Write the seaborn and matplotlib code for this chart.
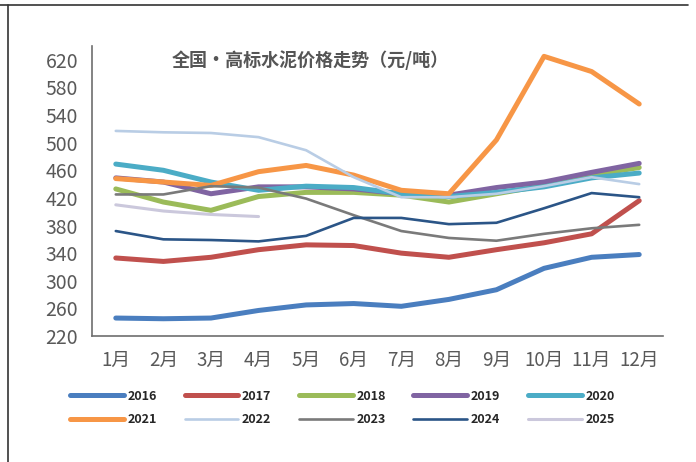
#!/usr/bin/env python
"""
National high-grade cement price trend by month, 2016-2025.
"""

import pandas as pd
import matplotlib.pyplot as plt
from matplotlib.lines import Line2D
import seaborn as sns

months = ['1月', '2月', '3月', '4月', '5月', '6月', '7月', '8月', '9月', '10月', '11月', '12月']

p2016 = [246, 245, 246, 257, 265, 267, 263, 273, 287, 318, 334, 338]
p2017 = [333, 328, 334, 345, 352, 351, 340, 334, 345, 355, 368, 416]
p2018 = [433, 414, 402, 422, 428, 428, 424, 414, 426, 438, 453, 464]
p2019 = [449, 443, 426, 436, 436, 433, 426, 424, 435, 443, 457, 470]
p2020 = [469, 460, 443, 431, 437, 435, 426, 422, 428, 436, 449, 456]
p2021 = [448, 443, 438, 458, 467, 453, 431, 426, 504, 625, 603, 556]
p2022 = [517, 515, 514, 508, 489, 450, 421, 421, 426, 437, 450, 440]
p2023 = [425, 425, 437, 435, 419, 395, 372, 362, 358, 368, 376, 381]
p2024 = [372, 360, 359, 357, 365, 391, 391, 382, 384, 405, 427, 421]
p2025 = [410, 401, 396, 393]

series = {
    '2016': p2016, '2017': p2017, '2018': p2018, '2019': p2019, '2020': p2020,
    '2021': p2021, '2022': p2022, '2023': p2023, '2024': p2024, '2025': p2025,
}

colors = {
    '2016': '#4a7ebf', '2017': '#c0504d', '2018': '#9bbb59', '2019': '#8064a2',
    '2020': '#4bacc6', '2021': '#f79646', '2022': '#b9cde5', '2023': '#7a7a7a',
    '2024': '#2b5587', '2025': '#cbc8dc',
}
widths = {
    '2016': 3.6, '2017': 3.6, '2018': 3.6, '2019': 3.6, '2020': 3.6,
    '2021': 3.6, '2022': 1.9, '2023': 1.9, '2024': 1.9, '2025': 2.2,
}

sns.set_style('white')
plt.rcParams['font.family'] = ['Noto Sans CJK SC', 'DejaVu Sans']

fig = plt.figure(figsize=(6.96, 4.62), dpi=100)
ax = fig.add_axes([92 / 696, 1 - 336 / 462, (663 - 92) / 696, (336 - 46) / 462])

for year, vals in series.items():
    d = pd.DataFrame({'x': range(len(vals)), 'price': vals})
    sns.lineplot(data=d, x='x', y='price', ax=ax, color=colors[year],
                 linewidth=widths[year], label=year, solid_capstyle='round')

ax.set_xlim(-0.5, 11.5)
ax.set_ylim(220, 640)
ax.set_yticks(range(220, 621, 40))
ax.set_xticks([i - 0.5 for i in range(13)])
ax.set_xticklabels([])
ax.set_xticks(range(12), minor=True)
ax.set_xticklabels(months, minor=True)
ax.tick_params(axis='x', which='major', direction='out', length=6, width=1.2, colors='#595959')
ax.tick_params(axis='x', which='minor', length=0, labelsize=13.5, labelcolor='#595959', pad=10)
ax.tick_params(axis='y', direction='out', length=6, width=1.2, colors='#595959',
               labelsize=14, labelcolor='#595959', pad=4)
ax.set_xlabel('')
ax.set_ylabel('')
for s in ['top', 'right']:
    ax.spines[s].set_visible(False)
for s in ['left', 'bottom']:
    ax.spines[s].set_color('#6e6e6e')
    ax.spines[s].set_linewidth(1.2)

ax.text(0.14, 0.95, '全国•高标水泥价格走势（元/吨）', transform=ax.transAxes,
        fontsize=13, fontweight='bold', color='#555555', ha='left', va='center')

# legend in two rows, 2016-2020 on top
handles, labels = ax.get_legend_handles_labels()
order = [0, 5, 1, 6, 2, 7, 3, 8, 4, 9]
ax.legend([handles[i] for i in order], [labels[i] for i in order],
          ncol=5, loc='center', bbox_to_anchor=(0.492, 0.117),
          bbox_transform=fig.transFigure, frameon=False,
          prop={'weight': 'bold', 'size': 9}, handlelength=4.3,
          columnspacing=2.2, labelspacing=0.85, handletextpad=0.3)

# outer frame
fig.add_artist(Line2D([0, 688 / 696], [1 - 5 / 462, 1 - 5 / 462], color='#333333', lw=1.2))
fig.add_artist(Line2D([8 / 696, 8 / 696], [0, 1 - 5 / 462], color='#333333', lw=1.2))

fig.savefig('out.png', dpi=100)
